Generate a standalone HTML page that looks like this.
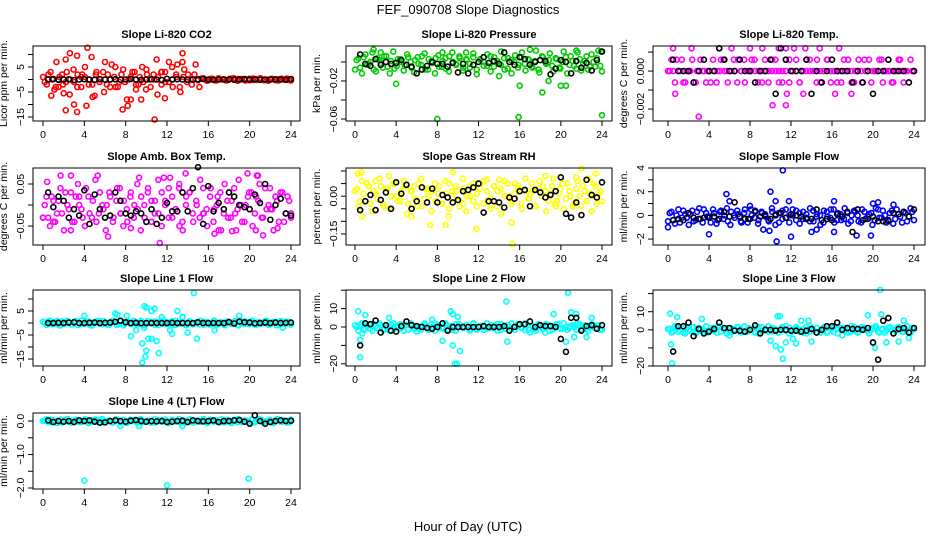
<!DOCTYPE html>
<html><head><meta charset="utf-8"><style>
html,body{margin:0;padding:0;background:#fff;}
svg{display:block;font-family:"Liberation Sans",sans-serif;}
</style></head><body>
<svg id="chart" width="936" height="540" viewBox="0 0 936 540" xmlns="http://www.w3.org/2000/svg">
<rect width="936" height="540" fill="#fff"/>
<text x="468" y="14" text-anchor="middle" font-size="13">FEF_090708  Slope Diagnostics</text>
<text x="468" y="531" text-anchor="middle" font-size="13">Hour of Day (UTC)</text>
</svg>
<script>
const xTicks = [0,4,8,12,16,20,24];

const co2Main = [1,-2,3,-4,0,2,-1,-6,4,-3,1,5,-2,-7,3,0,-5,2,6,-3,-1,4,-8,1,3,-2,5,-4,0,2,-6,3,-1,7,-3,1,-5,4,2,-2,6,-3,0.5,-0.5,0.3,-0.3,0.5,0,-0.4,0.3,0.5,-0.5,0.2,0,-0.3,0.4,-0.2,0.5,0,-0.5,0.3,-0.3,0.2,0,0.4,-0.4];
const co2Main2 = [-1,2,0,-3,1,-2,3,0,-1,2,-3,1,0,-2,2,-1,3,-2,0,1,-3,2,-1,0,3,-2,1,-1,2,-3,0,1,-2,3,-1,0,2,-3,1,-1,0,2,-0.3,0.4,0,-0.2,0.3,-0.4,0.1,0,-0.3,0.4,-0.1,0.2,0,-0.4,0.3,-0.2,0.1,0.4,-0.3,0,0.2,-0.1,-0.4,0.3,0,-0.2];
const co2Extra = [[2.2,8],[4.3,12.7],[3.3,9.5],[2.6,10.5],[1.3,7],[0.8,-6.5],[2.2,-12.3],[3.3,-13],[4.2,-10.5],[2,-5.5],[3,-10],[7.7,-12],[8.2,-10.5],[10.8,-16],[11.8,-7.5],[13.5,10.5],[13.5,7],[11,8],[9.5,-8],[4.7,9],[6,7],[7,5],[12.5,5],[13,6],[10,4],[8.5,-8],[5,-6.5],[9,-4],[6.5,-3],[11.5,3],[3.8,2],[1.5,-3]];
const co2Black = [0,0.2,-0.1,0,0.1,-0.2,0,0.1,0,-0.1,0.2,0,0,0.1,-0.1,0,0.2,0,-0.1,0,0.1,0,-0.2,0.3,0,0.1,0,-0.1,0,0.1,0.2,0,-0.1,0,0.1,0,-0.1,0,0.2,0,0.1,-0.1,0,0,0.1,0,-0.1,0.2];

const presMain = [-0.008,0.004,-0.012,0.008,-0.002,0.01,-0.01,0.002,-0.006,0.006,-0.012,0.011,-0.004,0.003,-0.009,0.008,0,-0.011,0.005,-0.003,0.009,-0.008,0.001,-0.012,0.007,-0.005,0.004,-0.01,0.01,-0.002,0.006,-0.009,0.003,-0.006,0.009,-0.013,0.002,-0.004,0.008,-0.01,0.005,-0.001,0.011,-0.008,0.004,-0.012,0.007,-0.003,0.01,-0.009,0.002,-0.006,0.012,-0.011,0.005,-0.002,0.009,-0.01,0.003,-0.007,0.011,-0.012,0.006,-0.004,0.01,-0.009,0.001,-0.008,0.008,-0.005,0.012,-0.01];
const presMain2 = [0.002,-0.006,0.005,-0.003,0,-0.008,0.004,-0.001,0.006,-0.005,0.001,-0.007,0.003,0,-0.004,0.005,-0.006,0.002,-0.002,0.006,-0.008,0.003,-0.001,0.004,-0.005,0.001,-0.007,0.006,0,-0.003,0.004,-0.006,0.002,-0.002,0.005,-0.008,0.003,0,-0.004,0.006,-0.005,0.001,-0.003,0.004,-0.007,0.002,0,-0.006,0.005,-0.002,0.003,-0.005,0.001,-0.008,0.006,-0.001,0.002,-0.004,0.004,-0.006,0,0.005,-0.003,0.001,-0.007,0.003,-0.002,0.006,-0.005,0,0.004,-0.004];
const presExtra = [[8,-0.06],[15.9,-0.058],[24,-0.056],[4,-0.023],[18.2,-0.032],[16,-0.025],[20,-0.025],[20.5,-0.025],[8.5,0.01],[1.8,0.013],[17,0.013],[23.9,0.011],[14,-0.015],[2.5,0.01],[21.5,0.012],[10.8,0.01],[18.8,-0.02]];
const presBlack = [0.008,-0.002,-0.004,0.003,-0.003,0,-0.002,-0.001,0.002,-0.003,-0.005,-0.012,-0.008,-0.004,0,-0.002,-0.002,-0.005,-0.001,-0.011,-0.002,-0.012,-0.003,0,0.005,-0.001,0.001,-0.002,0.01,0,-0.003,0.005,0.003,-0.003,0,0.002,0.001,-0.013,-0.007,0.002,0,-0.012,0.001,-0.006,-0.001,-0.009,0.002,0.011];

const tempMain = [0,0.0006,-0.0006,0,0.0006,-0.0006,0,0.0006,-0.0006,0,0,-0.0006,0,0.0006,-0.0006,0,0.0006,0,0,0.0006,-0.0006,0,0.0006,0,0,0.0006,-0.0006,0,0.0006,-0.0006,0,0.0006,-0.0006,0,0.0006,-0.0006,0,0.0006,-0.0006,0,0.0006,0,0,0.0006,-0.0006,0,0.0006,-0.0006,0,0,-0.0006,0,0.0006,-0.0006,0,0.0006,-0.0006,0,0.0006,0,0,0.0006,-0.0006,0,0,-0.0006,0,0.0006,-0.0006,0,0.0006,0];
const tempMain2 = [0,0,0.0006,0,-0.0006,0,0,-0.0006,0,0.0006,0,0,-0.0006,0,0,0.0006,0,-0.0006,0,0,0.0006,0,-0.0006,0,0.0006,0,0,-0.0006,0,0,0.0006,0,0,-0.0006,0,0.0006,0,0,-0.0006,0,0,0.0006,0,-0.0006,0,0,0.0006,0,0,-0.0006,0,0.0006,0,0,-0.0006,0,0,0.0006,0,-0.0006,0,0,0.0006,0,0,-0.0006,0,0.0006,0,0,-0.0006,0];
const tempExtra = [[0.5,0.0012],[2.3,0.0012],[5,0.0012],[6.2,0.0012],[8,0.0012],[9.2,0.0012],[10.8,0.0012],[11.5,0.0012],[12.3,0.0012],[13.4,0.0012],[14.8,0.0012],[16.7,0.0012],[0.7,-0.0012],[11.6,-0.0012],[13.2,-0.0012],[16.3,-0.0012],[17.9,-0.0012],[10.2,-0.0018],[11.5,-0.0018],[3,-0.0024]];
const tempBlack = [0.0006,0,0,0,-0.0006,0,0.0006,0,0,0.0012,0.0006,0,0,0.0006,0,0,-0.0006,0,0,0.0006,-0.0012,0.0012,0.0006,0,0,0,0.0006,-0.0012,0,-0.0006,0,0.0006,0,0,0,-0.0006,0,-0.0006,0,-0.0012,0,0,0.0006,0,0,0,-0.0006,0];

const ambMain = [-0.03,0.02,-0.05,0.01,-0.02,0.04,-0.06,0,0.03,-0.04,0.05,-0.01,-0.05,0.02,-0.03,0.06,-0.02,0,-0.06,0.03,-0.04,0.01,0.04,-0.05,-0.01,0.02,-0.03,0.05,-0.06,0,0.03,-0.04,-0.02,0.06,-0.05,0.01,0.04,-0.03,-0.01,0.05,-0.06,0.02,0.03,-0.04,0,0.06,-0.02,-0.05,0.04,-0.01,0.02,-0.06,0.05,-0.03,0.01,-0.02,0.06,-0.04,0,0.03,-0.05,0.02,0.05,-0.03,-0.01,0.04,-0.06,0.01,0.03,-0.04,0.02,-0.02];
const ambMain2 = [0,-0.03,0.02,-0.04,0.01,-0.02,0.03,-0.01,-0.04,0.02,0,-0.03,0.04,-0.02,0.01,-0.04,0.03,-0.01,0,0.02,-0.03,0.04,-0.02,0.01,-0.04,0.03,0,-0.01,0.02,-0.03,0.04,-0.04,0.01,-0.02,0.03,0,-0.03,0.02,-0.01,0.04,-0.04,0,0.03,-0.02,0.01,-0.03,0.04,-0.01,0.02,-0.04,0,0.03,-0.02,0.01,-0.03,0.04,-0.01,0,-0.04,0.02,0.03,-0.02,0.01,-0.03,0.04,0,-0.01,0.02,-0.04,0.03,-0.02,0.01];
const ambExtra = [[1.7,0.07],[2.7,0.07],[5.3,0.07],[0.4,0.055],[9.3,0.065],[13.8,0.075],[19.8,0.075],[20.7,0.07],[20.8,0.07],[11.3,-0.09],[6.3,-0.075],[20.6,-0.06],[21.3,-0.072],[2.7,-0.06],[16.6,-0.068],[17,-0.06],[18.3,-0.062],[18.7,-0.06],[22.7,-0.055],[8.5,-0.055],[13.2,-0.05],[12.3,0.065],[11.7,0.065],[0,-0.03],[1,-0.04],[24,-0.03],[3.5,0.02],[7.5,-0.02],[10.5,0.01],[15.5,-0.02],[18,0.03],[22,-0.01]];
const ambBlack = [0.03,-0.005,0.02,0.01,-0.03,-0.01,-0.025,0.035,-0.045,0.025,-0.01,-0.03,-0.025,0.03,0.01,-0.02,-0.025,-0.015,-0.02,-0.04,-0.01,-0.045,-0.03,0.005,-0.015,-0.015,0.03,-0.015,0.04,0.09,-0.045,0.045,-0.015,0.005,-0.01,0.03,0.02,0,-0.005,-0.01,0.025,0.005,0.05,-0.035,0,0.015,-0.02,-0.025];

const rhMain = [0.02,-0.04,0.06,-0.02,0.04,-0.06,0.01,0.07,-0.03,0.03,-0.05,0.05,0,-0.02,0.06,-0.07,0.02,0.04,-0.04,0.07,-0.01,0.03,-0.06,0.05,0.01,-0.03,0.06,-0.05,0.02,0.04,-0.02,0.07,-0.06,0,0.05,-0.04,0.03,0.06,-0.02,-0.05,0.04,0.02,-0.07,0.06,0,-0.03,0.05,0.03,-0.05,0.07,-0.01,0.02,-0.04,0.06,0.04,-0.06,0.01,0.07,-0.02,0.03,-0.05,0.05,0,-0.03,0.06,-0.04,0.02,0.07,-0.06,0.04,0.01,-0.02];
const rhMain2 = [0.03,-0.02,0.01,0.05,-0.03,0.02,-0.01,0.04,-0.04,0.03,0,0.05,-0.02,0.01,0.04,-0.03,0.02,-0.01,0.05,-0.04,0.03,0,0.02,-0.02,0.04,-0.03,0.01,0.05,-0.01,0.02,-0.04,0.03,0,0.04,-0.02,0.01,0.05,-0.03,0.02,-0.01,0.04,-0.04,0.03,0,0.05,-0.02,0.01,0.04,-0.03,0.02,-0.01,0.05,-0.04,0.03,0,0.02,-0.02,0.04,-0.03,0.01,0.05,-0.01,0.02,-0.04,0.03,0,0.04,-0.02,0.01,0.05,-0.03,0.02];
const rhExtra = [[0.3,0.09],[0.6,0.095],[9.5,0.095],[2,0.06],[15.3,-0.19],[11.8,-0.13],[8.8,-0.115],[7.3,-0.115],[15.2,-0.105],[22,0.11],[23.4,0.09],[18.5,0.08],[21.5,0.075],[5.5,-0.08],[9.1,-0.08],[0.7,-0.08],[3.3,0.08],[12.8,0.065],[14,0.065],[4.5,0.02],[10.5,-0.03],[17,0.01],[19.5,-0.04]];
const rhBlack = [-0.055,-0.02,0.005,-0.055,-0.015,0.015,-0.05,0.055,0.01,0.045,-0.05,-0.02,0.035,-0.025,0.03,-0.025,0.005,-0.005,-0.025,-0.015,0.02,0.025,0.035,0.05,-0.065,-0.02,-0.02,-0.025,-0.045,-0.005,-0.01,0.02,0.025,-0.04,0.025,0.015,-0.005,0.005,0.02,0.075,-0.07,-0.085,-0.025,-0.075,0.065,0.005,-0.005,0.055];

const flowMain = [-0.5,0.3,-0.7,0.5,-0.2,0.1,-0.8,0.4,-0.4,0.6,-0.6,0.2,-0.1,0.5,-0.7,0.3,-0.3,0.6,-0.8,0,0.4,-0.5,0.2,-0.6,0.5,-0.2,-0.7,0.3,0.1,-0.4,0.6,-0.8,0.2,-0.3,0.5,-0.6,0,0.4,-0.7,0.3,-0.2,0.6,-0.5,0.1,-0.8,0.4,-0.1,0.5,-0.6,0.2,-0.4,0.6,-0.7,0,0.3,-0.5,0.5,-0.3,0.1,-0.8,0.6,-0.2,0.4,-0.6,0.2,-0.7,0.5,-0.1,0.3,-0.5,0.6,-0.4];
const flowMain2 = [0.2,-0.4,0,-0.6,0.4,-0.2,0.1,-0.5,0.3,-0.3,0.5,-0.1,-0.6,0.2,-0.4,0.4,0,-0.5,0.3,-0.2,0.1,-0.6,0.5,-0.3,0,0.4,-0.4,0.2,-0.1,-0.5,0.3,0.1,-0.6,0.4,-0.2,0,0.5,-0.4,0.2,-0.3,0.1,-0.5,0.4,-0.1,0,-0.6,0.3,-0.2,0.5,-0.4,0.1,-0.3,0.2,-0.5,0.4,0,-0.6,0.3,-0.1,0.2,-0.4,0.5,-0.2,0,-0.5,0.4,-0.3,0.1,-0.6,0.2,-0.1,0.3];
const flowExtra = [[11.2,3.8],[10,2],[5.7,1.8],[6,1.2],[10.5,1.2],[11.8,1.2],[16.2,1.2],[4,-1.6],[10.6,-2.2],[12,-1.8],[18.4,-1.7],[19.8,-1.7],[9.3,-1.2],[9.9,-1.3],[16.2,-1.4],[0,-1],[20,1],[20.5,1.1],[14,-1.4],[14.5,-1.2],[22,0.9],[8,0.8]];
const flowBlack = [-0.4,-0.3,-0.4,0.2,-0.2,-0.3,-0.2,-0.2,-0.1,-0.3,0.3,-0.1,1.1,-0.1,-0.3,-0.3,0.3,-0.1,0,-0.3,0,0.2,-0.2,0.1,0,-0.1,-0.3,-0.3,0.5,-0.4,-0.3,-0.4,0.1,-0.1,0.3,-1.4,0.5,-0.4,-0.3,-0.1,-0.5,-0.5,-0.4,0.2,0.1,0.3,-0.1,0.5];

const l1Main = [0.5,-0.8,1,-0.3,0.8,-1,0.2,0.9,-0.6,0.4,-0.9,1,-0.2,0.6,-1,0.3,0.9,-0.5,0.1,-0.8,1,-0.4,0.7,-1,0.5,-0.2,0.9,-0.7,0.3,-1,0.8,-0.1,0.6,-0.9,1,-0.4,0.2,-0.8,0.9,-0.3,0.5,-1,0.7,-0.6,0.1,0.9,-0.8,0.4,-0.2,1,-0.7,0.3,-0.9,0.6,-0.4,0.8,-1,0.2,0.7,-0.5,1,-0.8,0.3,-0.1,0.9,-0.6,0.5,-1,0.8,-0.3,0.6,-0.7];
const l1Main2 = [0,0.6,-0.5,0.3,-0.8,0.7,-0.2,0.4,-0.6,0.8,0,-0.4,0.5,-0.7,0.2,0.6,-0.3,0.8,-0.6,0.1,0.4,-0.8,0.5,-0.1,0.7,-0.5,0.2,-0.3,0.8,-0.6,0,0.5,-0.7,0.3,-0.2,0.6,-0.4,0.8,-0.8,0.1,0.4,-0.5,0.7,-0.2,0.3,-0.6,0.5,0,-0.7,0.8,-0.3,0.2,-0.5,0.6,-0.1,0.4,-0.8,0.7,-0.4,0,0.5,-0.6,0.3,-0.2,0.8,-0.7,0.1,0.4,-0.5,0.6,-0.3,0.2];
const l1Extra = [[14.6,12.5],[9.8,7],[10,6.5],[10.5,5],[10.8,6],[13,5],[7,4],[7.2,3.5],[8.1,3],[9.8,-2],[8.5,-5.5],[9.6,-8.5],[10.2,-6.5],[10.5,-6.5],[11,-7.5],[10,-11.5],[11.2,-12.5],[9.9,-14],[9.6,-16.5],[14.9,-6.5],[16.6,-3],[23.2,-2],[4,3],[19,3],[14,-4],[11.5,2.5],[12.3,-3],[13.5,2.5],[9,-3],[12.5,-4.5]];
const l1Black = [0,0,0.1,0,0.2,0.3,0,0,0.1,0.2,0,0.1,0.2,0.5,1,0.3,0,0.1,-0.1,0,0,0,0,0,0.1,0,0,0,0,0.3,0,0,0,0,0,0.4,-0.2,0.6,0.3,0.2,-0.1,0,0.2,0,0.2,0,0.1,0.2];

const l2Main = [1,-2,2,-1,1.5,-2,0.5,2,-1.5,1,-2,2,-0.5,1.5,-2,1,2,-1,0,-1.5,2,-1,1.5,-2,1,-0.5,2,-1.5,0.5,-2,1.5,0,1,-2,2,-1,0.5,-1.5,2,-0.5,1,-2,1.5,-1,0,2,-1.5,1,-0.5,2,-1.5,0.5,-2,1,-1,1.5,-2,0.5,1.5,-1,2,-1.5,0.5,0,2,-1,1,-2,1.5,-0.5,1,-1.5];
const l2Main2 = [0,1,-1.5,0.5,-1,1.5,-0.5,1,-1.5,0,1.5,-1,0.5,-0.5,1,-1.5,1.5,0,-1,0.5,1,-1.5,0,1.5,-0.5,-1,1,0.5,-1.5,1.5,0,-0.5,1,-1,1.5,-1.5,0.5,0,-1,1,-0.5,1.5,-1.5,0.5,1,-1,0,1.5,-0.5,-1.5,1,0.5,-1,1.5,0,-0.5,1,-1.5,0.5,1.5,-1,0,-0.5,1,-1.5,1.5,0.5,-1,0,1,-0.5,-1.5];
const l2Extra = [[0.3,8.5],[1,6.5],[0.5,-7],[0.5,-16.5],[3.3,5],[7.5,4],[9.3,8.5],[9.5,7],[10,5.5],[8.5,-7.5],[9.5,-10],[10.2,-13],[9.7,-20],[9.9,-20],[14.7,13.8],[14.8,-8],[19.3,7],[20.5,-8],[20.7,18.5],[21,8],[21.5,7],[21.3,-5.5],[22.5,-5.5],[23,5],[0.7,-3.5],[6,-2.5],[17,-3],[18.5,-3]];
const l2Black = [-10,2,1.5,3.5,-3,1,-2,-2.5,0.5,3,1,0.5,0,-0.5,-1,0,2,-2,0,0,0,0,0,0,0.5,0,0,0,0.5,-2,0,1.5,1.5,3,0,1,0.5,0.5,0,-6.5,-13.5,5,5,-2,0.5,1,-1,1];

const l3Main = [0.5,-1.5,2,-1,1,-2,0,1.5,-2,1,-1,2,-0.5,1,-1.5,2,0.5,-2,1,-0.5,1.5,-1.5,2,-1,0,1,-2,1.5,-0.5,2,-1,0.5,-1.5,1,2,-2,0,1.5,-1,0.5,-2,2,-0.5,1,-1.5,1.5,-1,0,2,-2,0.5,1,-1.5,2,-0.5,-1,1.5,0,-2,1,2,-1.5,0.5,-0.5,1.5,-2,1,0,-1,2,-1.5,0.5];
const l3Main2 = [0.5,-1,1.5,0,-1.5,1,-0.5,1.5,-1,0.5,0,-1.5,1,-0.5,1.5,-1,0,1,-1.5,0.5,1.5,-0.5,-1,1,0,-1.5,1.5,-0.5,0.5,-1,1,0,-1.5,1.5,-0.5,1,-1,0.5,0,-1.5,1.5,-1,0.5,1,-0.5,0,-1.5,1.5,-1,0.5,1,-0.5,0,-1,1.5,-1.5,0.5,1,-0.5,0,1.5,-1,0.5,-1.5,1,0,-0.5,1.5,-1,0.5,-1.5,1];
const l3Extra = [[0.2,9],[0.9,7],[0.3,-8],[0.4,-18.5],[3.3,6],[10.7,7.5],[10.9,7.5],[10,-6],[10.5,-9],[11,-11],[11.2,-16],[11.5,-7],[12.2,-5],[12.5,-7.5],[13,5],[13.7,5],[14,-6.5],[19.5,8],[20.2,-10],[20,-7],[20.7,22],[20.8,8.5],[21.3,-7],[22.5,-6.5],[23,5],[23.5,-4.5],[6,-3],[17,-3]];
const l3Black = [-12,2,2,4,-3.5,0.5,-2,-1,0.5,4,1,1,-0.5,-0.5,-1,0,2.5,-2,0,0,-0.5,0,0,-0.5,-0.5,-1,-0.5,0.5,-1.5,0,2,2,4,0,1,0.5,0.5,0,1,-7,-16.5,5,6.5,-2,0.5,1,-1.5,1];

const l4Main = [0,0.05,-0.04,0.02,-0.06,0.04,-0.02,0.06,-0.05,0.01,0.03,-0.03,0.05,-0.06,0,0.04,-0.04,0.06,-0.02,0.02,-0.05,0.05,-0.01,0.03,-0.06,0.04,0,-0.04,0.06,-0.03,0.02,-0.05,0.05,0,-0.02,0.04,-0.06,0.03,-0.01,0.06,-0.04,0.01,0.05,-0.05,0.02,-0.03,0.06,-0.06,0.04,0,-0.02,0.05,-0.04,0.03,-0.06,0.01,0.06,-0.03,0.02,-0.05,0.04,-0.01,0.05,-0.04,0,0.03,-0.06,0.06,-0.02,0.02,-0.05,0.04];
const l4Main2 = [0.02,-0.03,0.04,-0.01,0,-0.04,0.03,-0.02,0.01,0.04,-0.03,0,0.02,-0.04,0.03,-0.01,0.04,-0.02,0,0.01,-0.03,0.04,-0.04,0.02,0,-0.01,0.03,-0.03,0.04,-0.02,0.01,0,-0.04,0.02,0.03,-0.01,-0.03,0.04,0,-0.02,0.01,-0.04,0.03,0.02,-0.01,0,0.04,-0.03,0.02,-0.02,0.01,-0.04,0.03,0,-0.01,0.04,-0.03,0.02,0,-0.02,0.04,-0.04,0.01,0.03,-0.01,0,-0.03,0.02,0.04,-0.02,0.01,-0.04];
const l4Extra = [[4,-1.78],[12,-1.92],[19.9,-1.72],[9.3,-0.15],[13.5,-0.15],[7.5,-0.15],[0,0],[24,0]];
const l4Black = [0.02,-0.03,0,-0.02,0,-0.03,0.02,0,0.02,-0.02,-0.05,-0.04,0,0.02,0,-0.02,0.01,0.03,0,-0.02,0,-0.01,0,-0.03,-0.02,0,0.01,-0.03,0.02,0,-0.01,0,0.02,-0.03,0,0,0.02,0.03,-0.02,-0.08,0.17,0,-0.08,-0.03,0,0.02,0,0.01];

const cols = [{bl:33,br:300,x0:43,x24:291},{bl:346,br:612,x0:355,x24:602},{bl:653,br:925,x0:668,x24:914}];
const rows = [{bt:46,bb:121},{bt:168,bb:245},{bt:290,bb:366},{bt:413,bb:489}];

const panels = [
 {name:'co2',title:'Slope Li-820 CO2',ylab:'Licor ppm per min.',c:0,r:0,ymin:-16.6,ymax:13.4,ticks:[10,5,0,-5,-10,-15],labels:{'5':'5','-5':'-5','-15':'-15'},color:'#ff0000',main:co2Main,main2:co2Main2,extra:co2Extra,black:co2Black},
 {name:'pressure',title:'Slope Li-820 Pressure',ylab:'kPa per min.',c:1,r:0,ymin:-0.0621,ymax:0.0168,ticks:[0,-0.02,-0.04,-0.06],labels:{'-0.02':'-0.02','-0.06':'-0.06'},color:'#00cd00',main:presMain,main2:presMain2,extra:presExtra,black:presBlack},
 {name:'temp',title:'Slope Li-820 Temp.',ylab:'degrees C per min.',c:2,r:0,ymin:-0.00263,ymax:0.00132,ticks:[0.001,0,-0.001,-0.002],labels:{'0':'0.000','-0.002':'-0.002'},color:'#ff00ff',main:tempMain,main2:tempMain2,extra:tempExtra,black:tempBlack},
 {name:'amb-box-temp',title:'Slope Amb. Box Temp.',ylab:'degrees C per min.',c:0,r:1,ymin:-0.095,ymax:0.088,ticks:[0.05,0,-0.05],labels:{'0.05':'0.05','-0.05':'-0.05'},color:'#ff00ff',main:ambMain,main2:ambMain2,extra:ambExtra,black:ambBlack},
 {name:'gas-rh',title:'Slope Gas Stream RH',ylab:'percent per min.',c:1,r:1,ymin:-0.194,ymax:0.112,ticks:[0.1,0.05,0,-0.05,-0.1,-0.15],labels:{'0':'0.00','-0.15':'-0.15'},color:'#ffff00',main:rhMain,main2:rhMain2,extra:rhExtra,black:rhBlack},
 {name:'sample-flow',title:'Slope Sample Flow',ylab:'ml/min per min.',c:2,r:1,ymin:-2.5,ymax:4,ticks:[4,3,2,1,0,-1,-2],labels:{'4':'4','2':'2','0':'0','-2':'-2'},color:'#0000ff',main:flowMain,main2:flowMain2,extra:flowExtra,black:flowBlack},
 {name:'line1-flow',title:'Slope Line 1 Flow',ylab:'ml/min per min.',c:0,r:2,ymin:-17.9,ymax:13.75,ticks:[10,5,0,-5,-10,-15],labels:{'5':'5','-5':'-5','-15':'-15'},color:'#00ffff',main:l1Main,main2:l1Main2,extra:l1Extra,black:l1Black},
 {name:'line2-flow',title:'Slope Line 2 Flow',ylab:'ml/min per min.',c:1,r:2,ymin:-21.2,ymax:20.1,ticks:[20,10,0,-10,-20],labels:{'10':'10','0':'0','-20':'-20'},color:'#00ffff',main:l2Main,main2:l2Main2,extra:l2Extra,black:l2Black},
 {name:'line3-flow',title:'Slope Line 3 Flow',ylab:'ml/min per min.',c:2,r:2,ymin:-20,ymax:22,ticks:[20,10,0,-10,-20],labels:{'10':'10','0':'0','-20':'-20'},color:'#00ffff',main:l3Main,main2:l3Main2,extra:l3Extra,black:l3Black},
 {name:'line4-flow',title:'Slope Line 4 (LT) Flow',ylab:'ml/min per min.',c:0,r:3,ymin:-2.03,ymax:0.24,ticks:[0,-0.5,-1,-1.5,-2],labels:{'0':'0.0','-1':'-1.0','-2':'-2.0'},color:'#00ffff',main:l4Main,main2:l4Main2,extra:l4Extra,black:l4Black}
];

const NS='http://www.w3.org/2000/svg';
const svg=document.getElementById('chart');
function mk(tag,attrs,parent){const e=document.createElementNS(NS,tag);for(const k in attrs)e.setAttribute(k,attrs[k]);parent.appendChild(e);return e;}

panels.forEach(p=>{
  const col=cols[p.c], row=rows[p.r];
  const sx=h=>col.x0+(col.x24-col.x0)*h/24;
  const sy=v=>row.bb-(v-p.ymin)/(p.ymax-p.ymin)*(row.bb-row.bt);
  const g=mk('g',{},svg);
  
  
  const t=mk('text',{x:(col.bl+col.br)/2,y:row.bt-8,'text-anchor':'middle','font-size':'11','font-weight':'bold'},g);
  t.textContent=p.title;
  
  
  const cx=col.bl-26, cy=(row.bt+row.bb)/2;
  const yl=mk('text',{x:cx,y:cy,'text-anchor':'middle','font-size':'10.5',transform:`rotate(-90 ${cx} ${cy})`},g);
  yl.textContent=p.ylab;
  
  
  const pts=mk('g',{fill:'none','stroke-width':'1.6'},g);
  
  
  const n=p.main.length;
  p.main.forEach((v,i)=>{
    const c=mk('circle',{cx:sx(24*i/(n-1)),cy:sy(v),r:2.5,stroke:p.color},pts);
    
    
  });
  const n2=p.main2.length;
  p.main2.forEach((v,i)=>{
    const c=mk('circle',{cx:sx(24*(i+0.5)/n2),cy:sy(v),r:2.5,stroke:p.color},pts);
    
    
  });
  p.extra.forEach(d=>{
    const c=mk('circle',{cx:sx(d[0]),cy:sy(d[1]),r:2.5,stroke:p.color},pts);
    
    
  });
  p.black.forEach((v,i)=>{
    const c=mk('circle',{cx:sx(0.5*(i+1)),cy:sy(v),r:2.5,stroke:'#000'},pts);
    
    
  });
  const box=mk('rect',{x:col.bl,y:row.bt,width:col.br-col.bl,height:row.bb-row.bt,fill:'none',stroke:'#000','stroke-width':'1'},g);
  
  
  const xa=mk('g',{},g);
  
  
  mk('line',{x1:sx(0),x2:sx(24),y1:row.bb,y2:row.bb,stroke:'#000'},xa);
  xTicks.forEach(h=>{
    mk('line',{x1:sx(h),x2:sx(h),y1:row.bb,y2:row.bb+5,stroke:'#000'},xa);
    const tl=mk('text',{x:sx(h),y:row.bb+17,'text-anchor':'middle','font-size':'10.5'},xa);
    tl.textContent=h;
    
    
  });
  const ya=mk('g',{},g);
  
  
  p.ticks.forEach(v=>{
    const y=sy(v);
    mk('line',{x1:col.bl-5,x2:col.bl,y1:y,y2:y,stroke:'#000'},ya);
    const lab=p.labels[String(v)];
    if(lab){
      const tx=col.bl-9;
      const tl=mk('text',{x:tx,y:y,'text-anchor':'middle','font-size':'10.5',transform:`rotate(-90 ${tx} ${y})`},ya);
      tl.textContent=lab.replace('-','\u2212');
      
      
    }
  });
});
</script>
</body></html>
